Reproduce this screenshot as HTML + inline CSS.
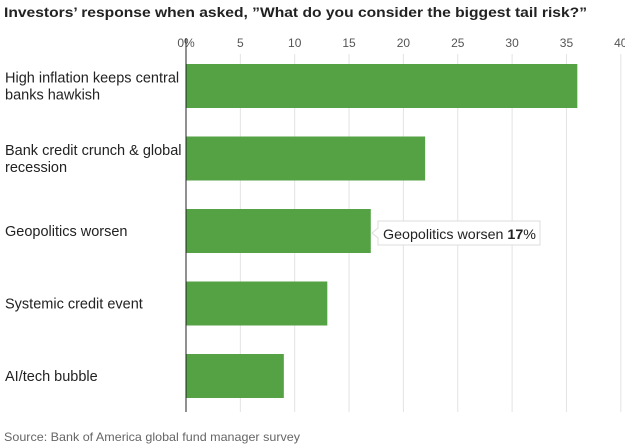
<!DOCTYPE html>
<html><head><meta charset="utf-8"><style>
body{margin:0;background:#fff;font-family:"Liberation Sans",sans-serif;}
svg{display:block}
</style></head><body>
<svg width="625" height="447" id="c">
<text x="4" y="17" font-size="14" font-weight="bold" fill="#222" textLength="583" lengthAdjust="spacingAndGlyphs">Investors’ response when asked, ”What do you consider the biggest tail risk?”</text>
<g id="grid"></g><g id="bars"></g><g id="labels"></g>
<line x1="186" y1="38" x2="186" y2="412" stroke="#222" stroke-width="1"/>
<g>
<path d="M378,221 H540 V245 H378 V238 L372,233 L378,228 Z" fill="#fff" stroke="#ddd"/>
<text x="383" y="239" font-size="14" fill="#222" textLength="153" lengthAdjust="spacingAndGlyphs">Geopolitics worsen <tspan font-weight="bold">17</tspan>%</text>
</g>
<text x="4" y="441" font-size="12" fill="#666" textLength="296" lengthAdjust="spacingAndGlyphs">Source: Bank of America global fund manager survey</text>
</svg>
<script>
const categories=[["High inflation keeps central","banks hawkish"],["Bank credit crunch & global","recession"],["Geopolitics worsen"],["Systemic credit event"],["AI/tech bubble"]];
const values=[36,22,17,13,9];
const ticks=[0,5,10,15,20,25,30,35,40];
const tickLabels=["0%","5","10","15","20","25","30","35","40"];
const NS="http://www.w3.org/2000/svg";
const x=v=>186+v*10.87;
const y=i=>64+i*72.5;
function mk(t,a,p){const e=document.createElementNS(NS,t);for(const k in a)e.setAttribute(k,a[k]);p.appendChild(e);return e;}
const g=document.getElementById('grid'),b=document.getElementById('bars'),l=document.getElementById('labels');
ticks.forEach((t,i)=>{
 if(i>0){const ln=mk('line',{x1:x(t),x2:x(t),y1:54,y2:412,stroke:'#e3e3e3'},g);
 
 }
 const tx=mk('text',{x:x(t),y:47,'font-size':12,fill:'#555','text-anchor':'middle'},g);
 tx.textContent=tickLabels[i];
 
 
});
values.forEach((v,i)=>{
 const r=mk('rect',{x:x(0),y:y(i),width:x(v)-x(0),height:44,fill:'#54a244'},b);
 
 
 const lines=categories[i];
 const cy=y(i)+22;
 const t=mk('text',{x:5,'font-size':14.5,fill:'#222'},l);
 
 
 lines.forEach((s,j)=>{const ts=mk('tspan',{x:5,y:cy+5+(j-(lines.length-1)/2)*17},t);ts.textContent=s;});
});
</script>
</body></html>
